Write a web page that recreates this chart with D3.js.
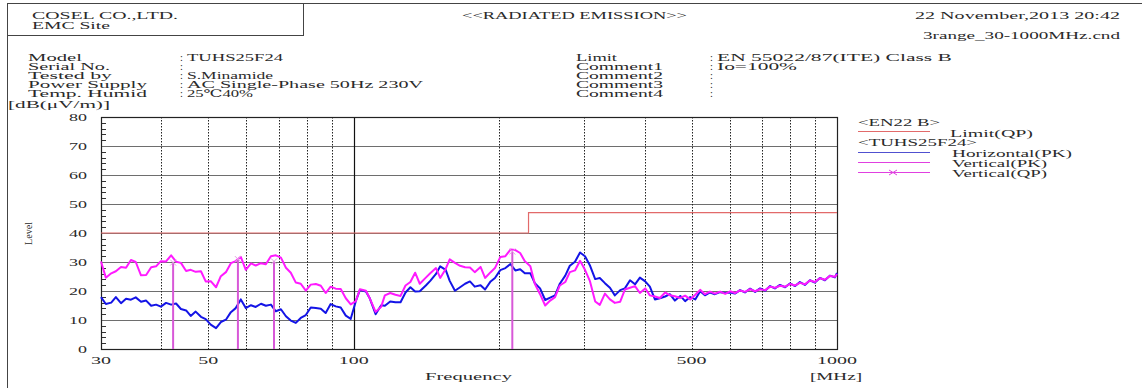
<!DOCTYPE html>
<html><head><meta charset="utf-8">
<script src="https://cdn.jsdelivr.net/npm/d3@7"></script>
<style>
body{margin:0;background:#fff;}
svg{display:block;}
text{font-family:"Liberation Serif","DejaVu Serif",serif;fill:#2a2a2a;font-size:10.5px;}
</style>
</head><body>
<svg id="c" width="1142" height="388"></svg>
<script>
// ---- data ----
const freqs=[30.0,30.7,31.5,32.2,33.0,33.8,34.6,35.4,36.3,37.2,38.1,39.0,39.9,40.9,41.9,42.9,43.9,45.0,46.0,47.1,
48.3,49.4,50.6,51.9,53.1,54.4,55.7,57.0,58.4,59.8,61.3,62.7,64.3,65.8,67.4,69.0,70.7,72.4,74.1,75.9,
77.7,79.6,81.5,83.5,85.5,87.5,89.6,91.8,94.0,96.3,98.6,101,103,106,108,111,114,116,119,122,
125,128,131,134,137,141,144,148,151,155,158,162,166,170,174,178,183,187,192,196,
201,206,211,216,221,226,232,237,243,249,255,261,267,274,280,287,294,301,308,316,
323,331,339,347,356,364,373,382,391,401,410,420,430,441,451,462,474,485,497,509,
521,533,546,559,573,587,601,615,630,645,661,677,693,710,727,744,762,781,799,819,
838,858,879,900,922,944,967,990,1000];
const verticalPK=[30.2,24.6,26.1,26.8,28.3,28.0,30.7,30.0,25.4,25.5,28.2,28.5,30.3,30.2,32.3,30.1,29.7,26.9,27.3,26.6,
26.8,23.3,23.4,21.3,25.1,26.5,29.6,30.3,31.8,27.3,29.5,28.8,29.6,29.2,32.0,32.3,31.5,28.0,26.3,22.9,
22.5,20.1,22.2,22.4,21.8,19.3,21.5,20.8,20.7,17.5,15.4,16.5,20.6,20.1,17.4,12.8,14.6,18.5,19.3,18.7,
18.3,21.9,23.1,26.3,22.5,24.6,26.1,27.9,24.5,27.6,30.9,29.7,28.7,28.2,28.1,26.5,28.3,24.5,26.5,27.9,
31.7,32.0,34.3,34.1,33.1,30.3,28.5,22.5,18.9,15.0,16.7,17.9,21.9,23.1,26.5,27.1,30.4,27.3,23.5,16.4,
15.2,19.1,17.1,15.9,16.3,20.5,21.1,21.7,19.3,20.9,18.5,18.1,17.6,19.5,18.5,18.2,17.6,18.4,17.1,18.7,
20.4,18.9,19.8,19.1,19.8,19.0,19.9,19.3,20.2,19.7,20.6,19.9,20.6,20.3,21.5,21.1,21.8,21.5,22.4,21.9,
22.8,22.3,23.6,23.1,24.4,23.9,25.2,24.9,25.8];
const horizontalPK=[17.9,15.5,16.0,17.9,15.8,17.3,17.0,17.8,16.3,16.7,14.9,15.3,14.6,15.9,15.3,15.7,13.8,13.3,11.4,12.9,
11.1,10.3,8.4,7.2,9.3,10.1,12.7,14.1,17.1,14.1,15.1,14.5,15.6,14.9,15.3,13.0,13.7,11.3,9.8,9.0,
10.7,11.7,14.3,14.1,13.9,12.4,15.5,14.7,14.3,11.5,10.4,16.5,20.4,19.8,17.4,12.0,15.1,14.9,16.4,16.1,
16.1,19.5,21.3,19.8,19.9,21.9,23.5,25.9,28.5,27.3,23.5,20.1,21.3,22.5,23.3,21.5,22.0,20.5,23.3,24.5,
27.2,27.9,29.3,27.1,27.5,26.1,26.1,22.7,20.9,16.9,17.7,18.5,22.5,25.3,28.7,30.1,33.3,32.0,28.9,24.1,
24.5,22.7,21.1,18.5,20.3,20.9,23.7,22.3,24.6,23.3,21.5,17.1,17.5,18.1,18.9,16.7,18.3,16.5,17.9,17.1,
19.9,18.5,19.5,18.9,19.6,19.3,19.5,19.1,20.3,19.5,20.8,19.7,20.9,20.1,21.7,20.9,22.1,21.3,22.6,21.7,
23.1,22.1,23.7,22.9,24.5,23.7,25.3,24.7,26.2];
const qpFreqs=[42.3,57.6,68.4,212.9];
const qpLevels=[29.8,31.0,30.2,33.6];
const limitFreqs=[30,230,230,1000];
const limitLevels=[40,40,47,47];
const yTicks=[0,10,20,30,40,50,60,70,80];
const yMinorTicks=[2,4,6,8,12,14,16,18,22,24,26,28,32,34,36,38,42,44,46,48,52,54,56,58,62,64,66,68,72,74,76,78];
const xTickLabels=[30,50,100,500,1000];
const dottedFreqs=[40,50,60,70,80,90,200,300,400,500,600,700,800,900];

// ---- layout ----
const svg=d3.select("#c");
const L=101,R=837,T=117,B=349;
const x=d3.scaleLog().domain([30,1000]).range([L,R]);
const y=d3.scaleLinear().domain([0,80]).range([B,T]);

function txt(s,px,py,w){
  const t=svg.append("text").attr("x",px).attr("y",py).text(s);
  if(w){t.attr("textLength",w).attr("lengthAdjust","spacingAndGlyphs");}
  return t;
}

// frame
const frameCol="#444";
svg.append("line").attr("x1",7.5).attr("x2",7.5).attr("y1",3).attr("y2",388).attr("stroke",frameCol);
svg.append("line").attr("x1",7).attr("x2",1142).attr("y1",3.5).attr("y2",3.5).attr("stroke",frameCol);
svg.append("line").attr("x1",303.5).attr("x2",303.5).attr("y1",3).attr("y2",35).attr("stroke",frameCol);
svg.append("line").attr("x1",7).attr("x2",304).attr("y1",35.5).attr("y2",35.5).attr("stroke",frameCol);

// header texts
txt("COSEL CO.,LTD.",32,19,146);
txt("EMC Site",32,28.5,78);
txt("<<RADIATED EMISSION>>",462,19,225);
txt("22 November,2013 20:42",915,19,205);
txt("3range_30-1000MHz.cnd",923,39,197);

const rows=[61,70,79,88,97];
const leftLabels=["Model","Serial No.","Tested by","Power Supply","Temp. Humid"];
const leftLabelW=[54,82,84,119,119];
const leftValues=["TUHS25F24","","S.Minamide","AC Single-Phase 50Hz 230V","25℃40%"];
const leftValueW=[96,0,86,236,66];
const rightLabels=["Limit","Comment1","Comment2","Comment3","Comment4"];
const rightLabelW=[41,87,87,87,87];
const rightValues=["EN 55022/87(ITE) Class B","Io=100%","","",""];
const rightValueW=[235,80,0,0,0];
rows.forEach((ry,i)=>{
  txt(leftLabels[i],28,ry,leftLabelW[i]);
  txt(":",180,ry);
  if(leftValues[i]) txt(leftValues[i],187,ry,leftValueW[i]);
  txt(rightLabels[i],576,ry,rightLabelW[i]);
  txt(":",710,ry);
  if(rightValues[i]) txt(rightValues[i],717,ry,rightValueW[i]);
});
txt("[dB(\u03BCV/m)]",8,108,102);

// grid
const g=svg.append("g");
g.selectAll("line.h").data(yTicks.filter(v=>v>0&&v<80)).enter().append("line")
  .attr("x1",L).attr("x2",R).attr("y1",d=>Math.round(y(d))+0.5).attr("y2",d=>Math.round(y(d))+0.5)
  .attr("stroke","#6e6e6e").attr("stroke-width",1);
g.selectAll("line.v").data(dottedFreqs).enter().append("line")
  .attr("x1",d=>Math.round(x(d))+0.5).attr("x2",d=>Math.round(x(d))+0.5).attr("y1",T).attr("y2",B)
  .attr("stroke","#222").attr("stroke-width",1).attr("stroke-dasharray","1.5,1.5");
g.append("line").attr("x1",Math.round(x(100))+0.5).attr("x2",Math.round(x(100))+0.5).attr("y1",T).attr("y2",B)
  .attr("stroke","#111").attr("stroke-width",1.2);
g.selectAll("line.m").data(yMinorTicks).enter().append("line")
  .attr("x1",L).attr("x2",L+5).attr("y1",d=>Math.round(y(d))+0.5).attr("y2",d=>Math.round(y(d))+0.5)
  .attr("stroke","#333").attr("stroke-width",1);
g.append("rect").attr("x",L+0.5).attr("y",T+0.5).attr("width",R-L).attr("height",B-T)
  .attr("fill","none").attr("stroke","#222").attr("stroke-width",1.2);

// axis labels
yTicks.forEach(v=>{
  const w=String(v).length*9;
  txt(String(v),87-w,y(v)+4,w);
});
xTickLabels.forEach(v=>{
  const w=String(v).length*10;
  txt(String(v),x(v)-w/2,364,w);
});
txt("Frequency",425,380,87);
txt("[MHz]",810,380,52);
svg.append("text").attr("transform","translate(32,245) rotate(-90)").attr("x",0).attr("y",0)
  .attr("textLength",23).attr("lengthAdjust","spacingAndGlyphs").style("font-size","10px").text("Level");

// limit
const limitLine=d3.line().x((d,i)=>x(limitFreqs[i])).y((d,i)=>y(limitLevels[i]));
svg.append("path").attr("d",limitLine(limitFreqs)).attr("fill","none").attr("stroke","#e26a6a").attr("stroke-width",1.2);

// traces
const trace=arr=>d3.line().x((d,i)=>x(freqs[i])).y((d,i)=>y(arr[i]))(arr);
svg.append("path").attr("d",trace(horizontalPK)).attr("fill","none").attr("stroke","#1414e6").attr("stroke-width",2).attr("stroke-linejoin","round");
svg.append("path").attr("d",trace(verticalPK)).attr("fill","none").attr("stroke","#ff1aff").attr("stroke-width",2).attr("stroke-linejoin","round");

// QP markers
qpFreqs.forEach((f,i)=>{
  const px=x(f),py=y(qpLevels[i]);
  svg.append("line").attr("x1",px).attr("x2",px).attr("y1",B).attr("y2",py).attr("stroke","#d858d8").attr("stroke-width",2);
  svg.append("path").attr("d",`M${px-3},${py-3}L${px+3},${py+3}M${px-3},${py+3}L${px+3},${py-3}`).attr("stroke","#e0a0e0").attr("stroke-width",1);
});

// legend
txt("<EN22 B>",858,126,82);
svg.append("line").attr("x1",858).attr("x2",930).attr("y1",131.5).attr("y2",131.5).attr("stroke","#e26a6a");
txt("Limit(QP)",950,137,83);
txt("<TUHS25F24>",858,146,119);
svg.append("line").attr("x1",858).attr("x2",930).attr("y1",152.5).attr("y2",152.5).attr("stroke","#5050d0");
txt("Horizontal(PK)",952,157,120);
svg.append("line").attr("x1",858).attr("x2",930).attr("y1",162.5).attr("y2",162.5).attr("stroke","#e040e0");
txt("Vertical(PK)",952,167,95);
svg.append("line").attr("x1",858).attr("x2",930).attr("y1",172.5).attr("y2",172.5).attr("stroke","#e040e0");
svg.append("path").attr("d","M889,170L897,175M889,175L897,170").attr("stroke","#e040e0").attr("stroke-width",1);
txt("Vertical(QP)",952,177,95);
</script>
</body></html>
